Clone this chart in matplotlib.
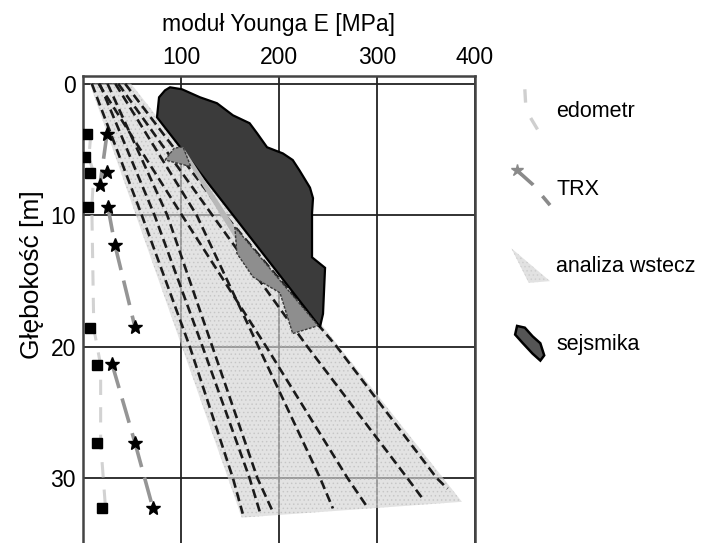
import numpy as np
import matplotlib
matplotlib.use('Agg')
import matplotlib.pyplot as plt
from matplotlib.patches import Polygon, Patch
from matplotlib.lines import Line2D
from matplotlib.legend_handler import HandlerPatch

plt.rcParams['font.family'] = ['Liberation Sans', 'DejaVu Sans']
plt.rcParams['font.size'] = 16.5
plt.rcParams['hatch.linewidth'] = 0.6

# --- dane (E w MPa, z w m) ---
# edometr
edo_E = [4, 2, 7, 5, 7, 14, 14, 19]
edo_z = [3.8, 5.6, 6.8, 9.4, 18.6, 21.4, 27.3, 32.3]

# TRX - punkty i odcinki je laczace
trx_E = [24.5, 24.5, 17.3, 25.5, 32.7, 53, 29.6, 53, 71.4]
trx_z = [3.8, 6.7, 7.7, 9.4, 12.3, 18.5, 21.3, 27.3, 32.3]
trx_segs = [(0, 2), (3, 4), (4, 5), (6, 7), (7, 8)]

# TRX - obszar
trx_area_E = [155, 157, 173.5, 201, 214, 240]
trx_area_z = [10.9, 12.9, 14.7, 15.9, 19.0, 18.4]
trx_top_E = [83.7, 93, 102, 110]
trx_top_z = [5.8, 4.9, 4.8, 6.3]
trx_band_E = [102, 155, 157, 110]
trx_band_z = [4.8, 10.9, 12.0, 6.3]

# analiza wstecz - obszar
fan_E = [7, 49, 386.7, 162]
fan_z = [0, 0, 31.8, 33.0]

# analiza wstecz - linie (E przy z = 0, 10, 20, 30, koniec)
back_z = [[0, 10, 20, 30, 32.7],
          [0, 10, 20, 30, 32.7],
          [0, 10, 20, 30, 32.6],
          [0, 10, 20, 30, 32.3],
          [0, 10, 20, 30, 32.3],
          [0, 10, 20, 30, 31.5],
          [0, 10, 20, 30, 30.8]]
back_E = [[9, 60, 109, 153, 163],
          [17, 73, 122, 170, 181],
          [25, 86, 132, 178, 194],
          [33, 116, 179, 242, 255],
          [16, 101, 187, 270, 291],
          [36, 132, 229, 331, 346],
          [43, 145, 259, 361, 372]]

# sejsmika
sej_E = [88.8, 101, 119.4, 136.7, 153, 170, 177.6, 187.8, 204, 214, 221, 231.6,
         234.7, 233.7, 233.7, 247, 244.9, 241.8, 75.5, 77.6, 83.7]
sej_z = [0.27, 0.42, 1.03, 1.48, 2.4, 3.0, 3.76, 4.83, 5.3, 5.8, 6.6, 7.9,
         8.7, 9.85, 13.2, 14.0, 17.5, 18.5, 2.55, 1.03, 0.5]

fig = plt.figure(figsize=(7.04, 5.43), dpi=100)
ax = fig.add_axes([83 / 704, 0, 392 / 704, 467 / 543])

# obszar analizy wstecznej
ax.add_patch(Polygon(np.column_stack([fan_E, fan_z]), closed=True,
                     facecolor='#d4d4d4', edgecolor='#bdbdbd', lw=0,
                     hatch='....', alpha=0.65, zorder=1))
for E, z in zip(back_E, back_z):
    ax.plot(E, z, color='#1a1a1a', lw=1.9, dashes=(3.5, 1.8), zorder=2)

# sejsmika
ax.add_patch(Polygon(np.column_stack([sej_E, sej_z]), closed=True,
                     facecolor='#3b3b3b', edgecolor='black', lw=1.6, zorder=3))

# TRX obszar
ax.add_patch(Polygon(np.column_stack([trx_band_E, trx_band_z]), closed=True,
                     facecolor='#b8b8b8', lw=0, zorder=3.5))
for E, z in [(trx_area_E, trx_area_z), (trx_top_E, trx_top_z)]:
    ax.add_patch(Polygon(np.column_stack([E, z]), closed=True,
                         facecolor='#8e8e8e', edgecolor='#3a3a3a', lw=1.0,
                         linestyle=(0, (2, 1)), zorder=4))

# edometr
ax.plot(np.array(edo_E) + 4, edo_z, color='#d2d2d2', lw=2.2, dashes=(5, 4), zorder=5)
ax.plot(edo_E, edo_z, 's', color='black', ms=6.5, zorder=6)

# TRX
for i, j in trx_segs:
    ax.plot([trx_E[i], trx_E[j]], [trx_z[i], trx_z[j]], color='#959595', lw=2.6,
            dashes=(7, 3), zorder=5)
ax.plot(trx_E, trx_z, '*', color='black', ms=10, zorder=6)

ax.set_xlim(0, 400)
ax.set_ylim(34.93, -0.59)
ax.xaxis.tick_top()
ax.xaxis.set_label_position('top')
ax.set_xticks([100, 200, 300, 400])
ax.set_yticks([0, 10, 20, 30])
ax.tick_params(length=0, pad=5)
ax.grid(True, color='#222222', lw=1.3)
ax.set_axisbelow(True)
for s in ['top', 'left', 'right']:
    ax.spines[s].set_color('#444444')
    ax.spines[s].set_linewidth(1.8)
ax.spines['bottom'].set_visible(False)
ax.set_xlabel('moduł Younga E [MPa]', labelpad=11)
ax.set_ylabel('Głębokość [m]', fontsize=19)
ax.yaxis.set_label_coords(-0.1, 0.574)


# legenda
class SlantLine:
    def __init__(self, fx, fy, color, lw, dashes, marker=None):
        self.fx, self.fy = fx, fy
        self.kw = dict(color=color, lw=lw, dashes=dashes)
        self.marker = marker

    def legend_artist(self, legend, orig_handle, fontsize, handlebox):
        x0, y0 = handlebox.xdescent, handlebox.ydescent
        w, h = handlebox.width, handlebox.height
        xs = [-x0 + f * w for f in self.fx]
        ys = [-y0 + f * h for f in self.fy]
        ln = Line2D(xs, ys, transform=handlebox.get_transform(), **self.kw)
        handlebox.add_artist(ln)
        if self.marker:
            mk = Line2D(xs[:1], ys[:1], marker=self.marker, color=self.kw['color'],
                        ms=9, ls='none', transform=handlebox.get_transform())
            handlebox.add_artist(mk)
        return ln


def shape(pts):
    def make(legend, orig_handle, xdescent, ydescent, width, height, fontsize):
        return Polygon([(-xdescent + fx * width, -ydescent + fy * height) for fx, fy in pts],
                       closed=True)
    return HandlerPatch(patch_func=make)


h_edo = Line2D([], [])
h_trx = Line2D([], [])
h_fan = Patch(facecolor='#e2e2e2', edgecolor='#cfcfcf', lw=0, hatch='....')
h_sej = Patch(facecolor='#555555', edgecolor='black', lw=1.8)
hmap = {
    h_edo: SlantLine([0.35, 0.38, 0.7], [1.1, 0.5, -0.1], '#cfcfcf', 2.4, (4, 5)),
    h_trx: SlantLine([0.15, 0.55, 1.0], [1.0, 0.6, 0.0], '#8a8a8a', 2.6, (6, 4), marker='*'),
    h_fan: shape([(0.0, 1.0), (1.0, 0.05), (0.45, 0.0)]),
    h_sej: shape([(0.15, 1.0), (0.35, 0.95), (0.55, 0.7), (0.75, 0.5), (0.85, 0.15),
                  (0.75, 0.0), (0.55, 0.2), (0.3, 0.5), (0.1, 0.75)]),
}
fig.legend([h_edo, h_trx, h_fan, h_sej], ['edometr', 'TRX', 'analiza wstecz', 'sejsmika'],
           handler_map=hmap, loc='upper left', bbox_to_anchor=(0.714, 0.845),
           frameon=False, fontsize=15.5, handlelength=1.8, handleheight=2.1,
           labelspacing=2.0, handletextpad=0.3, borderaxespad=0)

fig.savefig('out.png', dpi=100)
